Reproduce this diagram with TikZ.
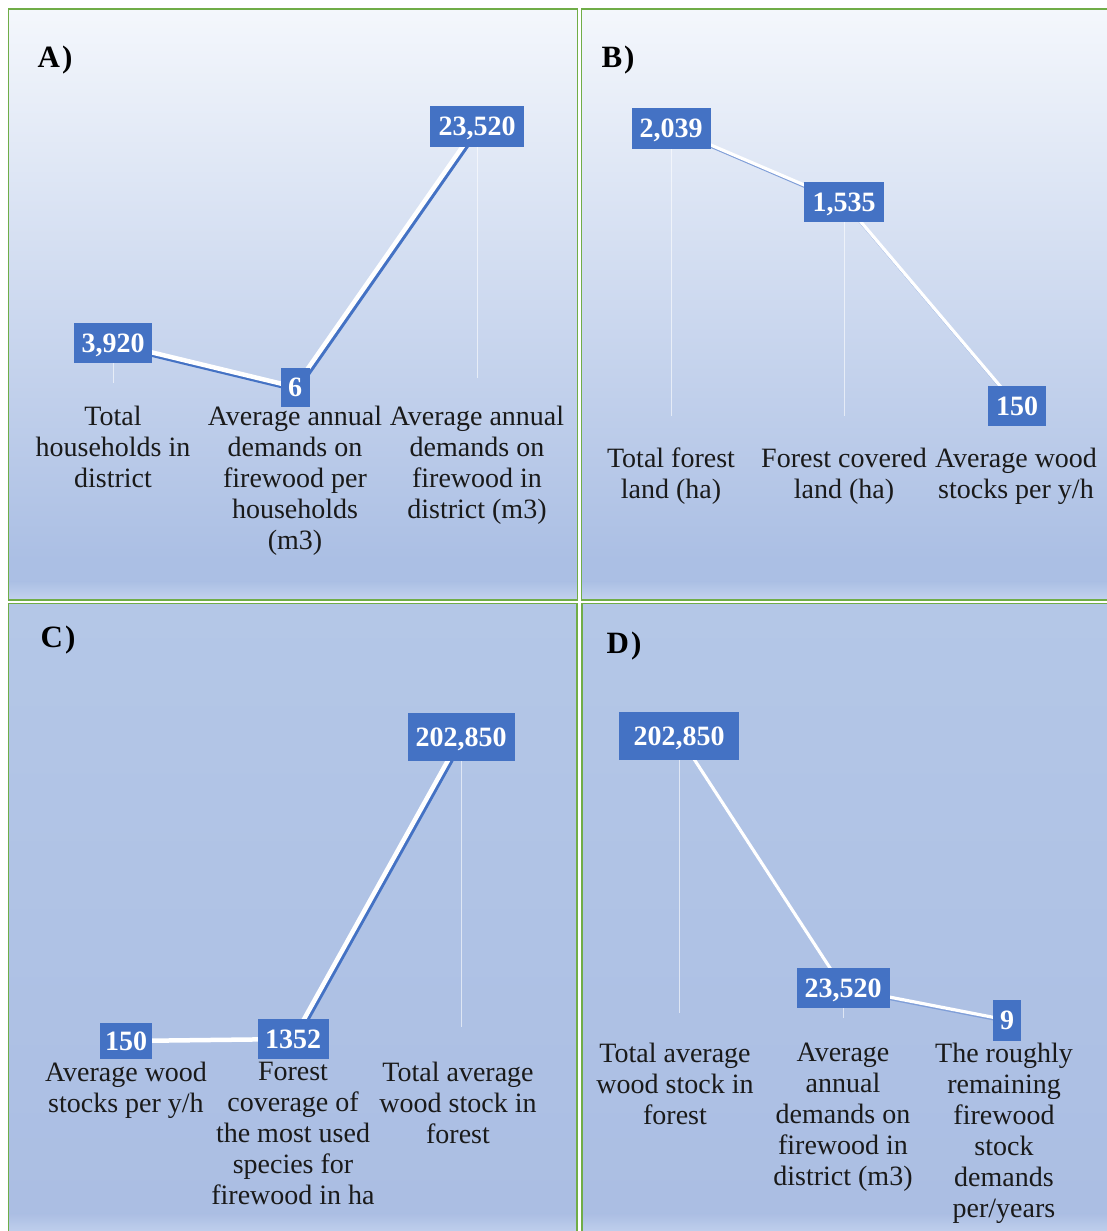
\documentclass[tikz,border=0pt]{standalone}
\usepackage{fontspec}
\setmainfont{Liberation Serif}
\newfontfamily\tnr{Liberation Serif}
\pgfdeclarelayer{bg}
\pgfdeclarelayer{lines}
\pgfsetlayers{bg,lines,main}
\definecolor{vblue}{HTML}{4472C4}
\definecolor{pgreen}{HTML}{70AD47}
\definecolor{topA}{HTML}{F4F7FC}
\definecolor{botA}{HTML}{ABBFE4}
\definecolor{bandc}{HTML}{C3D2EE}
\definecolor{topC}{HTML}{B4C7E7}
\definecolor{botC}{HTML}{ABBEE3}
\definecolor{txt}{HTML}{1A1A1A}
\definecolor{softblue}{HTML}{7F9ED8}
\tikzset{
  panel/.style={draw=pgreen, line width=1.5pt},
  val/.style={fill=vblue, text=white, font=\tnr\fontsize{28}{30}\selectfont\bfseries, inner sep=0pt, text depth=0pt, minimum height=40pt},
  cat/.style={font=\tnr\fontsize{28}{31}\selectfont, text=txt, align=center, anchor=north, inner sep=0pt},
  ttl/.style={font=\tnr\fontsize{31}{33}\selectfont\bfseries, text=black, inner sep=0pt},
  drop/.style={draw=white, opacity=0.6, line width=1pt},
  conn/.style={draw=white, line width=4.5pt},
  connthin/.style={draw=white, line width=3.2pt},
  shadowA/.style={draw=vblue, line width=4pt},
  shadowB/.style={draw=softblue, line width=2.5pt},
}
\begin{document}
\begin{tikzpicture}[x=1pt,y=-1pt]
\useasboundingbox (0,0) rectangle (1107,1231);
\begin{pgfonlayer}{bg}
\fill[white] (0,0) rectangle (1107,1231);
% panel A
\shade[top color=topA, bottom color=botA] (8.5,9) rectangle (577.5,560);
\fill[botA] (8.5,559) rectangle (577.5,582);
\shade[top color=botA, bottom color=bandc] (8.5,581.5) rectangle (577.5,600);
\draw[panel] (8.5,9) rectangle (577.5,600);
% panel B
\shade[top color=topA, bottom color=botA] (581.5,9) rectangle (1110,560);
\fill[botA] (581.5,559) rectangle (1110,582);
\shade[top color=botA, bottom color=bandc] (581.5,581.5) rectangle (1110,600);
\draw[panel] (581.5,9) rectangle (1110,600);
% panel C
\shade[top color=topC, bottom color=botC] (8.5,603.5) rectangle (577,1214);
\shade[top color=botC, bottom color=bandc] (8.5,1213.5) rectangle (577,1235);
\draw[panel] (8.5,603.5) rectangle (577,1235);
% panel D
\shade[top color=topC, bottom color=botC] (582,603.5) rectangle (1110,1214);
\shade[top color=botC, bottom color=bandc] (582,1213.5) rectangle (1110,1235);
\draw[panel] (582,603.5) rectangle (1110,1235);
\end{pgfonlayer}

% ---------- Panel A ----------
\node[ttl] (tA) at (55,60) {A\kern2pt)};
\node[val, minimum width=78pt] (vA1) at (113,343) {3,920};
\node[val, minimum width=29pt, minimum height=39pt] (vA2) at (295,387) {6};
\node[val, minimum width=94pt, minimum height=41pt] (vA3) at (477,126) {23,520};
\node[cat] (cA1) at (113,406) {Total\\households in\\district};
\node[cat] (cA2) at (295,406) {Average annual\\demands on\\firewood per\\households\\(m3)};
\node[cat] (cA3) at (477,406) {Average annual\\demands on\\firewood in\\district (m3)};
\coordinate (dA1) at (113,383);
\coordinate (dA3) at (477,378);

% ---------- Panel B ----------
\node[ttl] (tB) at (618,60) {B\kern2pt)};
\node[val, minimum width=79pt, minimum height=41pt] (vB1) at (671,128) {2,039};
\node[val, minimum width=80pt] (vB2) at (844,202) {1,535};
\node[val, minimum width=58pt] (vB3) at (1017,406) {150};
\node[cat] (cB1) at (671,448) {Total forest\\land (ha)};
\node[cat] (cB2) at (844,448) {Forest covered\\land (ha)};
\node[cat] (cB3) at (1016,448) {Average wood\\stocks per y/h};
\coordinate (dB1) at (671,416);
\coordinate (dB2) at (844,416);

% ---------- Panel C ----------
\node[ttl] (tC) at (58,640) {C\kern2pt)};
\node[val, minimum width=52pt, minimum height=36pt] (vC1) at (126,1041) {150};
\node[val, minimum width=71pt] (vC2) at (293,1039) {1352};
\node[val, minimum width=107pt, minimum height=48pt] (vC3) at (461,737) {202,850};
\node[cat] (cC1) at (126,1062) {Average wood\\stocks per y/h};
\node[cat] (cC2) at (293,1062) {Forest\\coverage of\\the most used\\species for\\firewood in ha};
\node[cat] (cC3) at (458,1062) {Total average\\wood stock in\\forest};
\coordinate (dC3) at (461,1027);

% ---------- Panel D ----------
\node[ttl] (tD) at (624,646) {D\kern2pt)};
\node[val, minimum width=120pt, minimum height=48pt] (vD1) at (679,736) {202,850};
\node[val, minimum width=93pt] (vD2) at (843,988) {23,520};
\node[val, minimum width=28pt, minimum height=41pt] (vD3) at (1007,1020) {9};
\node[cat] (cD1) at (675,1043) {Total average\\wood stock in\\forest};
\node[cat] (cD2) at (843,1043) {Average\\annual\\demands on\\firewood in\\district (m3)};
\node[cat] (cD3) at (1004,1043) {The roughly\\remaining\\firewood\\stock\\demands\\per/years};
\coordinate (dD1) at (679,1013);
\coordinate (dD2) at (843,1018);

% ---------- connectors ----------
\begin{pgfonlayer}{lines}
\draw[drop] (vA1.center) -- (dA1);
\draw[drop] (vA3.center) -- (dA3);
\draw[drop] (vB1.center) -- (dB1);
\draw[drop] (vB2.center) -- (dB2);
\draw[drop] (vC3.center) -- (dC3);
\draw[drop] (vD1.center) -- (dD1);
\draw[drop] (vD2.center) -- (dD2);
% A
\draw[shadowA] ([shift={(2pt,-3pt)}]vA1.center) -- ([shift={(2pt,-3pt)}]vA2.center) -- ([shift={(2pt,-3pt)}]vA3.center);
\draw[conn] (vA1.center) -- (vA2.center) -- (vA3.center);
% B
\draw[shadowB] ([shift={(1pt,-2pt)}]vB1.center) -- ([shift={(1pt,-2pt)}]vB2.center) -- ([shift={(1pt,-2pt)}]vB3.center);
\draw[connthin] (vB1.center) -- (vB2.center) -- (vB3.center);
% C
\draw[shadowA] ([shift={(2pt,-3pt)}]vC2.center) -- ([shift={(2pt,-3pt)}]vC3.center);
\draw[conn] (vC1.center) -- (vC2.center) -- (vC3.center);
% D
\draw[shadowB] ([shift={(1pt,-2pt)}]vD1.center) -- ([shift={(1pt,-2pt)}]vD2.center) -- ([shift={(1pt,-2pt)}]vD3.center);
\draw[connthin] (vD1.center) -- (vD2.center) -- (vD3.center);
\end{pgfonlayer}
\end{tikzpicture}
\end{document}
